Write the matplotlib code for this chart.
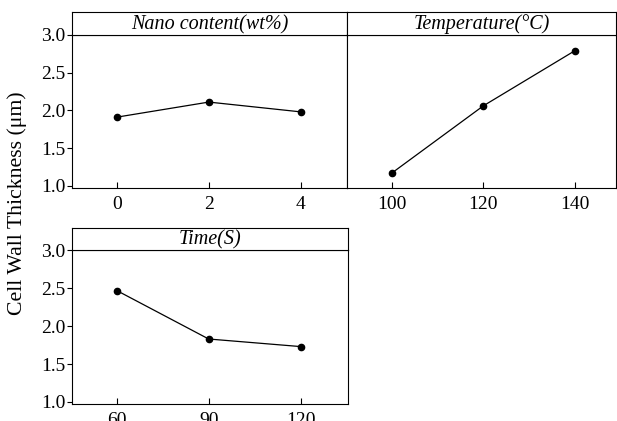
import matplotlib
matplotlib.use("Agg")
import matplotlib.pyplot as plt

# Data
nano_x = [0, 2, 4]
nano_y = [1.91, 2.11, 1.98]
temp_x = [100, 120, 140]
temp_y = [1.17, 2.06, 2.79]
time_x = [60, 90, 120]
time_y = [2.47, 1.83, 1.73]

titles = ["Nano content(wt%)", "Temperature(°C)", "Time(S)"]
y_ticks = [1.0, 1.5, 2.0, 2.5, 3.0]

plt.rcParams["font.family"] = ["Liberation Serif", "DejaVu Serif"]
plt.rcParams["font.size"] = 14
plt.rcParams["axes.linewidth"] = 0.8

W, H = 617, 421
fig = plt.figure(figsize=(W / 100, H / 100), dpi=100)


def box(x0, y0, x1, y1):
    # pixel box (left, top, right, bottom) -> figure fraction rect
    return [x0 / W, 1 - y1 / H, (x1 - x0) / W, (y1 - y0) / H]


panels = [
    # x data, y data, title, xlim, xticks, main box, strip box, show y ticks
    (nano_x, nano_y, titles[0], (-0.97, 5.0), [0, 2, 4],
     box(72, 34.5, 347, 188), box(72, 12, 347, 34.5), True),
    (temp_x, temp_y, titles[1], (90.2, 149.0), [100, 120, 140],
     box(347, 34.5, 616, 188), box(347, 12, 616, 34.5), False),
    (time_x, time_y, titles[2], (45.4, 135.3), [60, 90, 120],
     box(72, 250, 347.5, 404), box(72, 228.3, 347.5, 250), True),
]

for xs, ys, title, xlim, xticks, main_rect, strip_rect, show_y in panels:
    ax = fig.add_axes(main_rect)
    ax.plot(xs, ys, color="black", linewidth=0.9, marker="o", markersize=4.5)
    ax.set_xlim(*xlim)
    ax.set_ylim(0.972, 3.005)
    ax.set_xticks(xticks)
    ax.tick_params(axis="x", direction="in", length=4, width=0.8, pad=6)
    if show_y:
        ax.set_yticks(y_ticks)
        ax.set_yticklabels([f"{v:.1f}" for v in y_ticks])
        ax.tick_params(axis="y", direction="out", length=3.5, width=0.8, pad=1)
    else:
        ax.set_yticks([])

    sx = fig.add_axes(strip_rect)
    sx.set_xticks([])
    sx.set_yticks([])
    sx.text(0.5, 0.45, title, ha="center", va="center", style="italic",
            fontsize=14.5, transform=sx.transAxes)

fig.text(0.028, 0.517, "Cell Wall Thickness (μm)", rotation=90,
         ha="center", va="center", fontsize=15.7)

fig.savefig("out.png", dpi=100)
